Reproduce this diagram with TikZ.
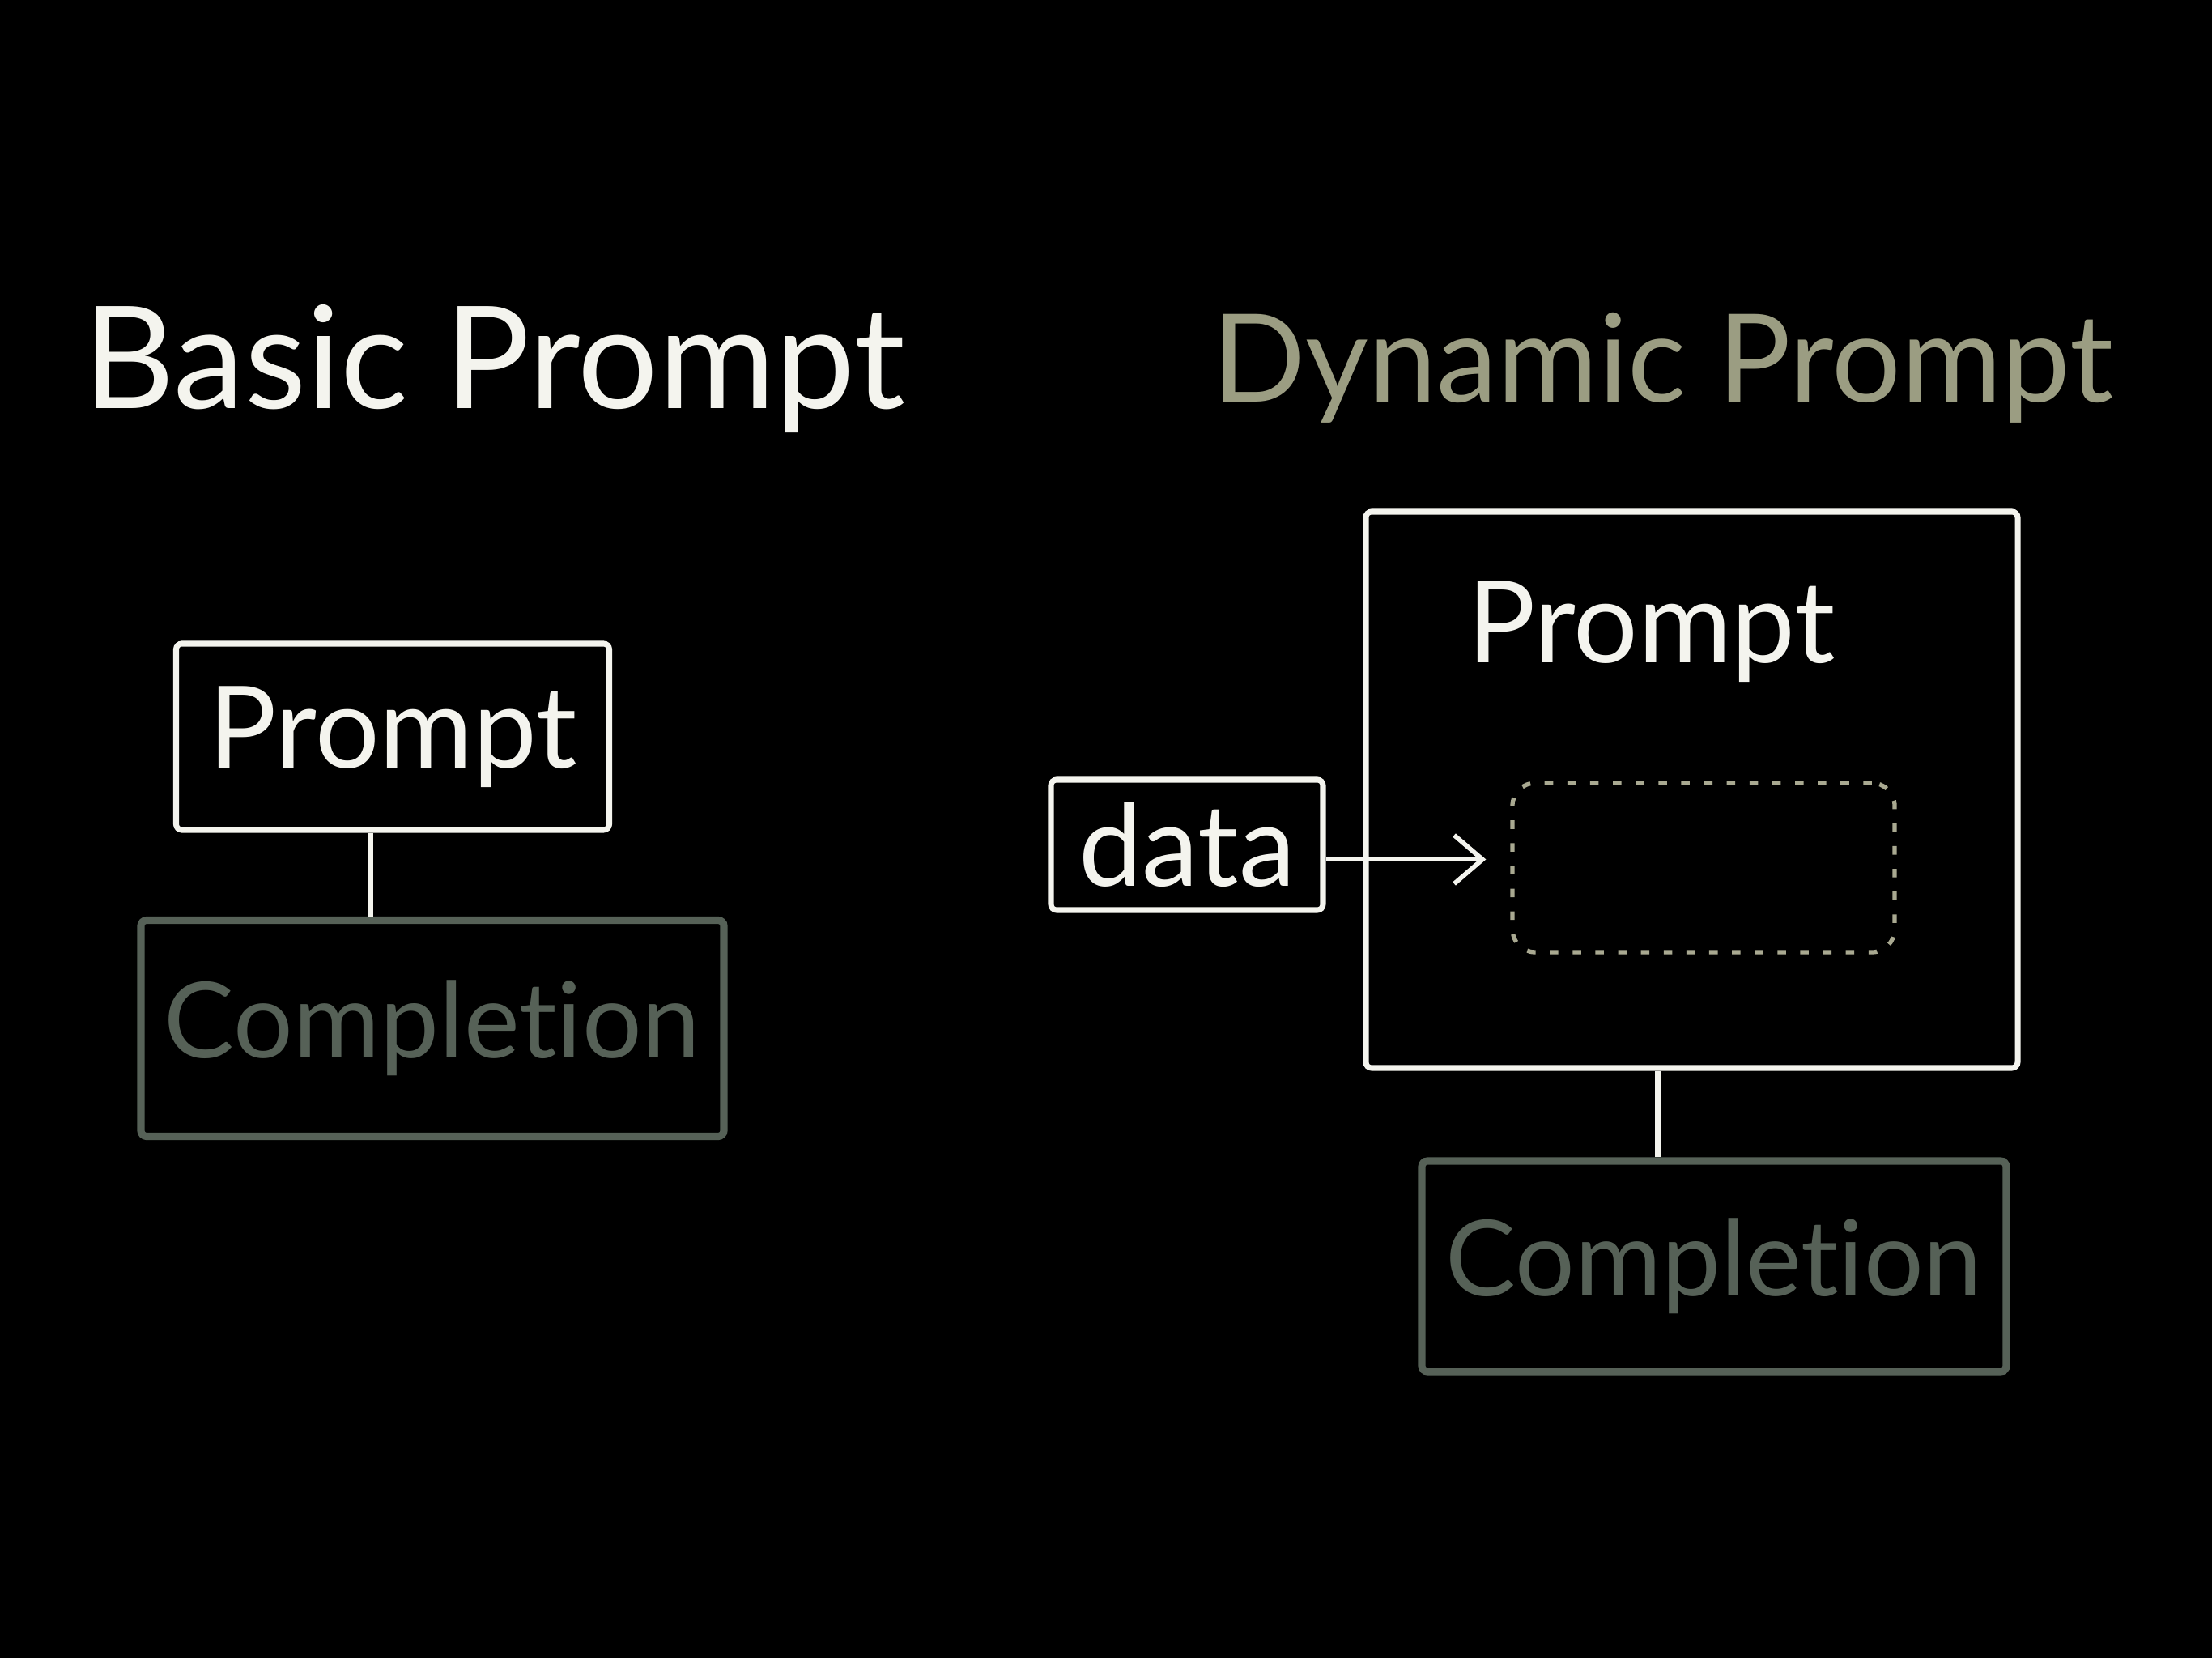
\documentclass[tikz,border=0pt]{standalone}
\usepackage{fontspec}
\setmainfont{Lato}[Ligatures={NoCommon}]
\usepackage{tikz}
\usetikzlibrary{arrows.meta,positioning,calc}
\definecolor{chalk}{HTML}{F4F4EE}
\definecolor{sage}{HTML}{566157}
\definecolor{olive}{HTML}{9B9D82}
\definecolor{dust}{HTML}{A9A991}
\tikzset{
  >=Stealth,
  title/.style={font=\fontsize{50}{60}\selectfont, anchor=base},
  pbox/.style={rectangle, draw=chalk, line width=2pt, rounded corners=2pt, text=chalk, inner sep=0pt, font=\fontsize{40}{48}\selectfont},
  cbox/.style={rectangle, draw=sage, line width=2.6pt, rounded corners=2pt, text=sage, inner sep=0pt, font=\fontsize{37}{44}\selectfont},
  slot/.style={rectangle, draw=dust, line width=1.5pt, rounded corners=8pt, dash pattern=on 3pt off 5pt},
  link/.style={chalk, line width=1.8pt},
  flow/.style={-{Straight Barb[length=3.5mm, width=6mm]}, chalk, line width=1.6pt, shorten >=3mm}
}
\begin{document}
\begin{tikzpicture}
    \useasboundingbox[fill=black] (0,0) rectangle (27.32,20.48);

    % === Left: basic prompt ===
    \node[title, text=chalk] (btitle) at (6.1,15.43) {Basic Prompt};
    \node[pbox, minimum width=5.35cm, minimum height=2.3cm] (bprompt) at (4.85,11.38) {Prompt};
    \node[cbox, minimum width=7.2cm, minimum height=2.67cm] (bcompl) at (5.34,7.78) {Completion};
    \draw[link] ([xshift=-2.7mm]bprompt.south) -- ([xshift=-2.7mm]bprompt.south |- bcompl.north);

    % === Right: dynamic prompt ===
    \node[title, text=olive, font=\fontsize{43}{52}\selectfont] (dtitle) at (20.54,15.51) {Dynamic Prompt};
    \node[pbox, minimum width=8.05cm, minimum height=6.87cm] (dprompt) at (20.895,10.725) {};
    \node[text=chalk, font=\fontsize{40}{48}\selectfont, anchor=base] (dlabel) at ([xshift=-5mm, yshift=-19mm]dprompt.north) {Prompt};
    \node[slot, minimum width=4.72cm, minimum height=2.09cm] (dslot) at (21.04,9.765) {};
    \node[pbox, minimum width=3.36cm, minimum height=1.61cm] (data) at (14.66,10.045) {data};
    \draw[flow] ([yshift=-1.8mm]data.east) -- ([yshift=-1.8mm]data.east -| dslot.west);
    \node[cbox, minimum width=7.22cm, minimum height=2.6cm] (dcompl) at (21.17,4.84) {Completion};
    \draw[link] ([xshift=-4.2mm]dprompt.south) -- ([xshift=-4.2mm]dprompt.south |- dcompl.north);

\end{tikzpicture}
\end{document}
